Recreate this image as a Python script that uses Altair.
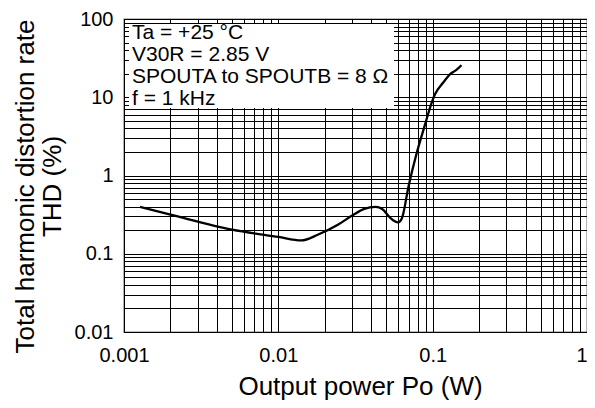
import altair as alt
import pandas as pd

# Curve (log-log)
power_w = [0.00127, 0.002, 0.005, 0.01, 0.0141, 0.018, 0.0243, 0.0303, 0.036,
           0.0427, 0.0471, 0.0532, 0.0597, 0.0633, 0.0698, 0.0789, 0.0893,
           0.0962, 0.1035, 0.117, 0.132, 0.1425, 0.1535]
thd_pct = [0.397, 0.316, 0.203, 0.164, 0.148, 0.175, 0.235, 0.31, 0.374,
           0.397, 0.374, 0.287, 0.252, 0.287, 0.73, 1.95, 4.5,
           7.38, 10.9, 15.4, 20.3, 22.4, 25.7]

x_decades = [0.001, 0.01, 0.1]
y_decades = [0.01, 0.1, 1, 10]
x_grid = [round(m * d, 6) for d in x_decades for m in range(1, 10)] + [1]
y_grid = [round(m * d, 6) for d in y_decades for m in range(1, 10)] + [100]

cond_lines = ["Ta = +25 °C", "V30R = 2.85 V", "SPOUTA to SPOUTB = 8 Ω", "f = 1 kHz"]

FONT = "Liberation Sans"
df = pd.DataFrame({"p": power_w, "thd": thd_pct})

decade_expr = "abs(log(datum.value)/LN10 - round(log(datum.value)/LN10)) < 0.001 ? datum.label : ''"

x_enc = alt.X("p:Q", scale=alt.Scale(type="log", domain=[0.001, 1], nice=False),
              axis=alt.Axis(values=x_grid, format="~g", labelExpr=decade_expr,
                            grid=True, gridColor="black", gridWidth=1, gridOpacity=1,
                            ticks=False, tickSize=0, domain=False,
                            labelFont=FONT, labelFontSize=20, labelColor="black",
                            labelPadding=13, labelOverlap=False, labelFlush=False,
                            labelAlign={"condition": {"test": "datum.value >= 0.999", "value": "right"},
                                        "value": "center"},
                            title="Output power Pᴏ (W)", titleFont=FONT, titleFontSize=26,
                            titleFontWeight="normal", titleColor="black",
                            titleBaseline="alphabetic", titleY=62, titleX=236))
y_enc = alt.Y("thd:Q", scale=alt.Scale(type="log", domain=[0.01, 100], nice=False),
              axis=alt.Axis(values=y_grid, format="~g", labelExpr=decade_expr,
                            grid=True, gridColor="black", gridWidth=1, gridOpacity=1,
                            ticks=False, tickSize=0, domain=False,
                            labelFont=FONT, labelFontSize=20, labelColor="black",
                            labelPadding=11, labelOverlap=False, labelFlush=False,
                            title=["Total harmonic distortion rate", "THD (%)"],
                            titleFont=FONT, titleFontSize=26, titleFontWeight="normal",
                            titleColor="black", titleLineHeight=27,
                            titleBaseline="alphabetic", titleAlign="center",
                            titleX=-91, titleY=167))

curve = alt.Chart(df).mark_line(color="black", strokeWidth=2.3, interpolate="monotone").encode(
    x=x_enc, y=y_enc)

box = alt.Chart(pd.DataFrame({"k": [0]})).mark_rect(color="white", opacity=1).encode(
    x=alt.value(5), x2=alt.value(270), y=alt.value(5), y2=alt.value(89))

label = alt.Chart(pd.DataFrame({"k": [0]})).mark_text(
    text=cond_lines, align="left", baseline="alphabetic", font=FONT, fontSize=21,
    lineHeight=22, color="black").encode(x=alt.value(8), y=alt.value(20))

chart = alt.layer(box, curve, label).properties(
    width=463, height=313, autosize="none",
    padding={"left": 116, "top": 11, "right": 0, "bottom": 68},
    background="white",
).configure_view(stroke="black", strokeWidth=1.2)

chart.save("out.html", embed_options={"renderer": "svg", "actions": False})
